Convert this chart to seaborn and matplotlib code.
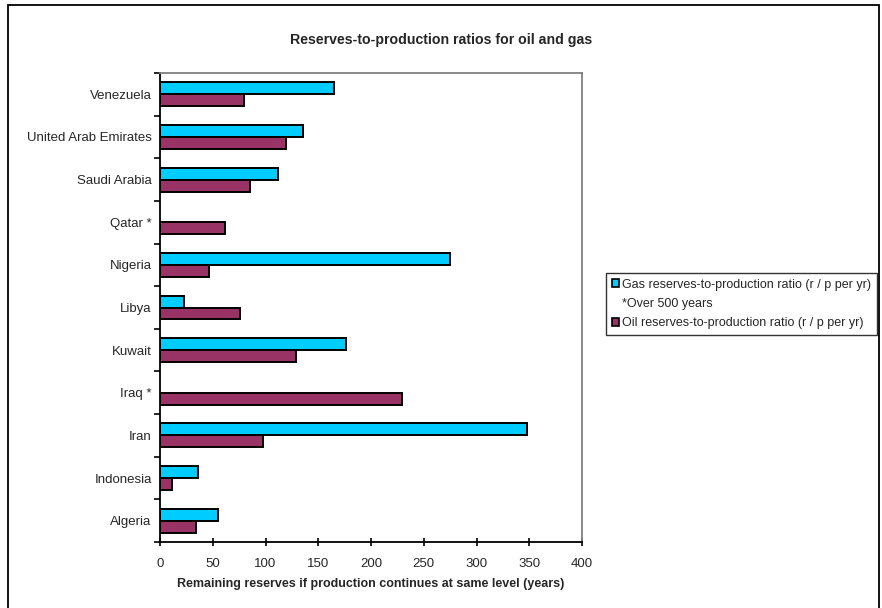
import numpy as np
import pandas as pd
import matplotlib
matplotlib.use("Agg")
import matplotlib.pyplot as plt
import matplotlib.patches as mpatches
import seaborn as sns

# Countries listed top to bottom
countries = ["Venezuela", "United Arab Emirates", "Saudi Arabia", "Qatar *",
             "Nigeria", "Libya", "Kuwait", "Iraq *", "Iran", "Indonesia", "Algeria"]
# Gas R/P (years); Qatar and Iraq exceed 500 years and are not drawn
gas_rp = [165, 136, 112, np.nan, 275, 23, 176, np.nan, 348, 36, 55]
# Oil R/P (years)
oil_rp = [80, 119, 85, 62, 46, 76, 129, 229, 98, 11, 34]

gas_label = "Gas reserves-to-production ratio (r / p per yr)"
gas_note = "*Over 500 years"
oil_label = "Oil reserves-to-production ratio (r / p per yr)"
x_ticks = [0, 50, 100, 150, 200, 250, 300, 350, 400]

df = pd.DataFrame({
    "country": countries * 2,
    "value": gas_rp + oil_rp,
    "series": [gas_label] * len(countries) + [oil_label] * len(countries),
})

sns.set_theme(style="white")
plt.rcParams["font.family"] = ["Liberation Sans", "DejaVu Sans"]

fig = plt.figure(figsize=(8.82, 6.08), dpi=100)
W, H = 882, 608
ax = fig.add_axes([160 / W, 1 - 542 / H, (582 - 160) / W, (542 - 73) / H])

gas_color, oil_color = "#00CCFF", "#993366"
sns.barplot(data=df, x="value", y="country", hue="series", order=countries,
            hue_order=[gas_label, oil_label],
            palette=[gas_color, oil_color], orient="h", width=0.56,
            edgecolor="black", linewidth=1.4, saturation=1, ax=ax,
            errorbar=None, legend=False)

ax.set_xlim(0, 400)
ax.set_ylim(len(countries) - 0.5, -0.5)
ax.set_xticks(x_ticks)
ax.set_xticklabels([str(t) for t in x_ticks], fontsize=9.5)

# category labels at centres, tick marks at category boundaries
ax.set_yticks(np.arange(-0.5, len(countries), 1.0))
ax.set_yticklabels([])
ax.set_yticks(np.arange(len(countries)), minor=True)
ax.set_yticklabels(countries, minor=True, fontsize=9.5)
ax.tick_params(axis="y", which="minor", length=0, pad=6)
ax.tick_params(axis="y", which="major", direction="out", length=4, width=1.2,
               color="black", left=True)
ax.tick_params(axis="x", direction="inout", length=6, width=1.2,
               color="black", bottom=True, pad=8.5)

ax.set_xlabel("Remaining reserves if production continues at same level (years)",
              fontsize=9, fontweight="bold", labelpad=6)
ax.set_ylabel("")

for side in ["left", "bottom"]:
    ax.spines[side].set_color("black")
    ax.spines[side].set_linewidth(1.3)
for side in ["top", "right"]:
    ax.spines[side].set_color("#808080")
    ax.spines[side].set_linewidth(1.3)

# legend: gas entry with its footnote on the next row, then oil
handles = [
    mpatches.Patch(facecolor=gas_color, edgecolor="black", linewidth=1.2),
    mpatches.Patch(facecolor="none", edgecolor="none"),
    mpatches.Patch(facecolor=oil_color, edgecolor="black", linewidth=1.2),
]
labels = [gas_label, gas_note, oil_label]
leg = fig.legend(handles, labels, loc="upper left",
                 bbox_to_anchor=(606 / W, 1 - 273 / H),
                 fontsize=9.0, frameon=True, fancybox=False, edgecolor="black",
                 borderpad=0.45, handlelength=0.6, handleheight=0.6,
                 handletextpad=0.25, labelspacing=0.58, borderaxespad=0)
leg.get_frame().set_linewidth(1.0)

fig.text(441 / W, 1 - 40 / H, "Reserves-to-production ratios for oil and gas",
         ha="center", va="center", fontsize=10.2, fontweight="bold")

# outer chart frame
fig.patches.append(mpatches.Rectangle((8 / W, -0.05), (879 - 8) / W, 1.05 - 5 / H,
                                      transform=fig.transFigure, fill=False,
                                      edgecolor="black", linewidth=1.3))

fig.savefig("out.png", dpi=100, facecolor="white")
